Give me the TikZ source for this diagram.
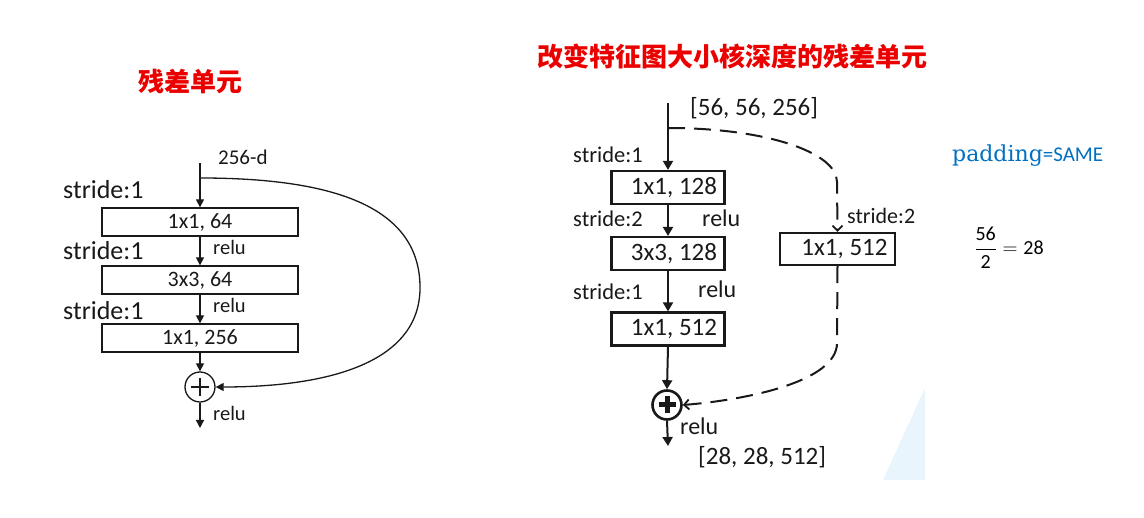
\documentclass[tikz,border=0pt]{standalone}
\usepackage{fontspec}
\setmainfont{Carlito}
\newfontfamily\cjk{Noto Sans CJK SC}
\newfontfamily\pserif{DejaVu Serif}
\usetikzlibrary{arrows.meta}
\definecolor{tred}{RGB}{235,0,0}
\definecolor{pblue}{RGB}{0,112,192}
\definecolor{ink}{RGB}{25,25,25}
\definecolor{bgblue}{RGB}{232,245,253}
\begin{document}
\begin{tikzpicture}[x=1pt,y=-1pt,
  lbox/.style={draw=ink,line width=1.3pt,minimum width=196pt,minimum height=28pt,inner sep=0pt,font=\fontsize{22}{24}\selectfont,text=ink},
  rbox/.style={draw=ink,line width=2.2pt,minimum height=33pt,inner sep=0pt,font=\fontsize{25}{27}\selectfont,text=ink},
  larr/.style={draw=ink,line width=1.3pt,-{Triangle[length=8pt,width=8pt]}},
  rarr/.style={draw=ink,line width=2pt,-{Triangle[length=9pt,width=10pt]}},
  dsh/.style={draw=ink,line width=2pt,dash pattern=on 17pt off 9pt},
  barb/.style={-{Straight Barb[length=5pt,width=10pt,line width=1.8pt]}},
  lab/.style={anchor=west,inner sep=0pt,text=ink},
  ltitle/.style={inner sep=0pt,text=tred,font=\cjk\bfseries\fontsize{26}{28}\selectfont},
]
\useasboundingbox (0,0) rectangle (1144,518);
\fill[bgblue] (883,480) -- (925,388) -- (925,480) -- cycle;

% ---------- left: residual unit ----------
\node[ltitle] (t1) at (190,82) {残差单元};
\coordinate (in1) at (200,163);
\coordinate (br1) at (200,178);
\coordinate (out1) at (200,428);
\node[lbox] (b1) at (200,222) {1x1, 64};
\node[lbox] (b2) at (200,280) {3x3, 64};
\node[lbox] (b3) at (200,338) {1x1, 256};
\node[circle,draw=ink,line width=1.3pt,minimum size=30pt,inner sep=0pt] (p1) at (200,387) {};
\draw[ink,line width=1.3pt] ([xshift=-9pt]p1.center) -- ([xshift=9pt]p1.center);
\draw[ink,line width=1.3pt] ([yshift=-9pt]p1.center) -- ([yshift=9pt]p1.center);
\draw[larr] (in1) -- (b1.north);
\draw[larr] (b1.south) -- (b2.north);
\draw[larr] (b2.south) -- (b3.north);
\draw[larr] (b3.south) -- (p1.north);
\draw[larr] (p1.south) -- (out1);
\draw[larr] (br1) .. controls (330,178) and (418,205) .. (420,285) .. controls (422,362) and (330,387) .. (p1.east);

\node[lab,font=\fontsize{21}{23}\selectfont] (d256) at (218,157) {256-d};
\node[lab,font=\fontsize{26}{28}\selectfont] (s1) at (63,190) {stride:1};
\node[lab,font=\fontsize{26}{28}\selectfont] (s2) at (63,251) {stride:1};
\node[lab,font=\fontsize{26}{28}\selectfont] (s3) at (63,311) {stride:1};
\node[lab,font=\fontsize{20.5}{22}\selectfont] (r1) at (213,247) {relu};
\node[lab,font=\fontsize{20.5}{22}\selectfont] (r2) at (213,305) {relu};
\node[lab,font=\fontsize{20.5}{22}\selectfont] (r3) at (213,413) {relu};

% ---------- right: down-sampling residual unit ----------
\node[ltitle] (t2) at (732,57) {改变特征图大小核深度的残差单元};
\coordinate (in2) at (668,103);
\coordinate (br2) at (668,128);
\coordinate (out2) at (668,446);
\node[rbox,minimum width=113pt] (c1) at (668,187.5) {\hspace*{12pt}1x1, 128};
\node[rbox,minimum width=113pt] (c2) at (668,253.5) {\hspace*{12pt}3x3, 128};
\node[rbox,minimum width=113pt] (c3) at (668,329) {\hspace*{12pt}1x1, 512};
\node[rbox,minimum width=115pt,minimum height=32pt] (c4) at (837.5,249) {\hspace*{14pt}1x1, 512};
\node[circle,draw=ink,line width=2.6pt,minimum size=29pt,inner sep=0pt] (p2) at (667,405) {};
\draw[ink,line width=5pt] ([xshift=-8.5pt]p2.center) -- ([xshift=8.5pt]p2.center);
\draw[ink,line width=5pt] ([yshift=-8.5pt]p2.center) -- ([yshift=8.5pt]p2.center);
\draw[rarr] (in2) -- (c1.north);
\draw[rarr] (c1.south) -- (c2.north);
\draw[rarr] (c2.south) -- (c3.north);
\draw[rarr] (c3.south) -- (p2.north);
\draw[rarr] (p2.south) -- (out2);
\draw[dsh,barb] (br2) .. controls (765,128) and (837,152) .. (837,182) -- (c4.north);
\draw[dsh,barb] (c4.south) -- (837,343) .. controls (837,382) and (745,400) .. (p2.east);

\node[lab,font=\fontsize{25}{27}\selectfont] (sh1) at (690,108) {[56, 56, 256]};
\node[lab,font=\fontsize{25}{27}\selectfont] (sh2) at (698,457) {[28, 28, 512]};
\node[lab,font=\fontsize{22.5}{24}\selectfont] (q1) at (573,155) {stride:1};
\node[lab,font=\fontsize{22.5}{24}\selectfont] (q2) at (573,219) {stride:2};
\node[lab,font=\fontsize{22.5}{24}\selectfont] (q3) at (573,292) {stride:1};
\node[lab,font=\fontsize{22}{24}\selectfont] (q4) at (847,216) {stride:2};
\node[lab,font=\fontsize{24}{26}\selectfont] (u1) at (702,218) {relu};
\node[lab,font=\fontsize{24}{26}\selectfont] (u2) at (698,289) {relu};
\node[lab,font=\fontsize{24}{26}\selectfont] (u3) at (680,426) {relu};

% ---------- notes ----------
\node[lab,text=pblue,anchor=base west] (pad) at (952,162) {\pserif\fontsize{22}{24}\selectfont padding\fontsize{21}{23}\selectfont\normalfont =SAME};
\node[inner sep=0pt,text=black,font=\fontsize{20}{22}\selectfont] (fr) at (1009,248) {$\displaystyle\frac{\hbox{56}}{\hbox{2}}=\hbox{28}$};
\end{tikzpicture}
\end{document}
